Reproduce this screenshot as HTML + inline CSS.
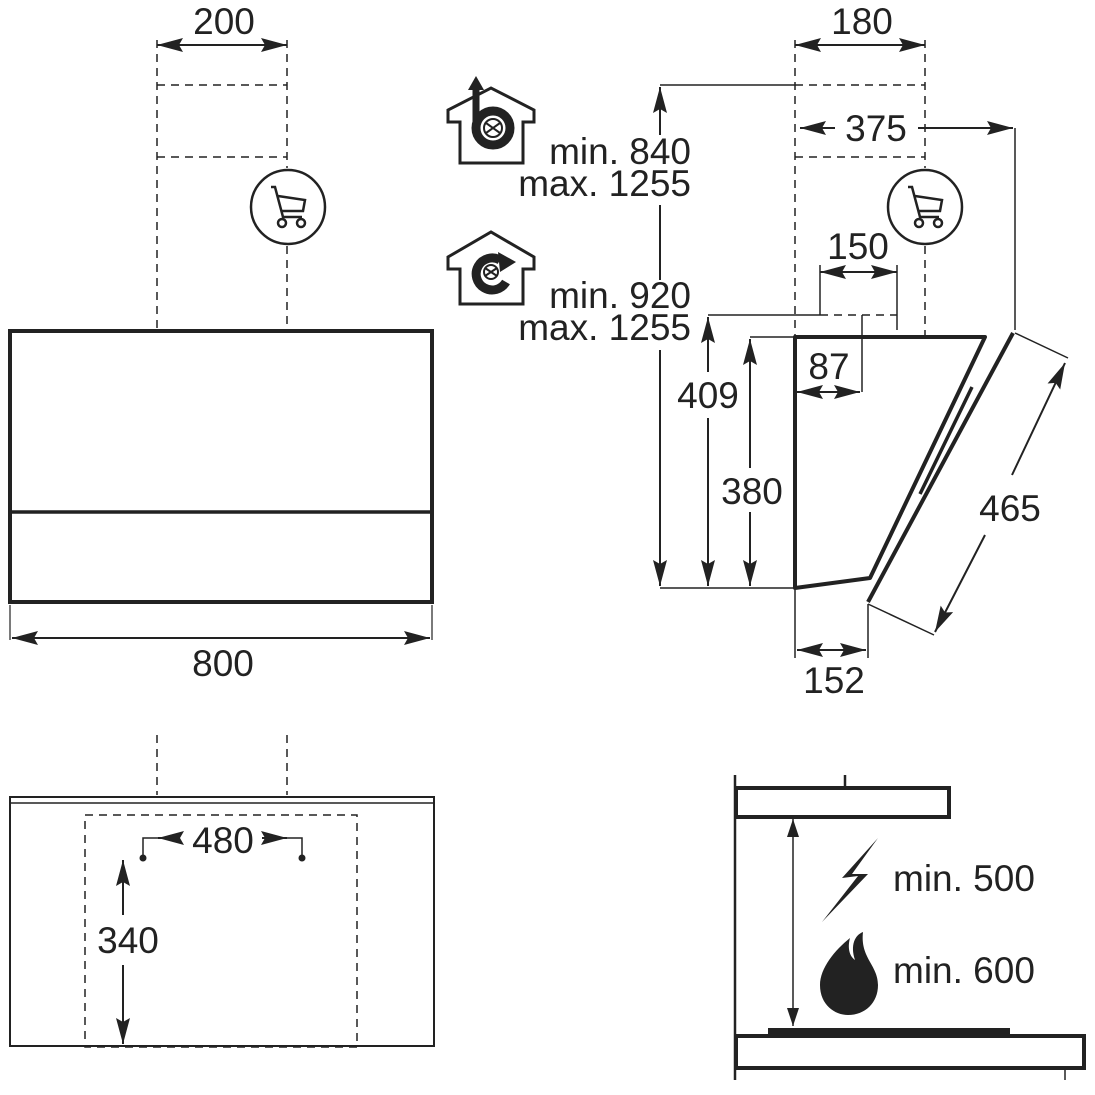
<!DOCTYPE html>
<html><head><meta charset="utf-8"><style>
html,body{margin:0;padding:0;background:#fff}
svg{display:block}
text{font-family:"Liberation Sans",sans-serif;font-size:37px;fill:#222}
</style></head><body>
<svg width="1095" height="1095" viewBox="0 0 1095 1095" xmlns="http://www.w3.org/2000/svg">
<defs>
<marker id="a" viewBox="0 0 26 14" refX="26" refY="7" markerWidth="26" markerHeight="14" markerUnits="userSpaceOnUse" orient="auto-start-reverse"><path d="M0,0 L26,7 L0,14 L4,7 z" fill="#222"/></marker>
<marker id="b" viewBox="0 0 18 12" refX="18" refY="6" markerWidth="18" markerHeight="12" markerUnits="userSpaceOnUse" orient="auto-start-reverse"><path d="M0,0 L18,6 L0,12 z" fill="#222"/></marker>
<g id="cart"><circle cx="0" cy="0" r="37" fill="none" stroke="#222" stroke-width="2.5"/>
<path d="M-17,-20 L-13,-20 L-5,10 L14,10 M-10,-11 L17,-7 L15,4 L-7,4" fill="none" stroke="#222" stroke-width="2.5"/>
<circle cx="-6" cy="16" r="4" fill="none" stroke="#222" stroke-width="2.5"/><circle cx="13" cy="16" r="4" fill="none" stroke="#222" stroke-width="2.5"/></g>
</defs>
<g stroke="#222" fill="none">
<!-- left top -->
<line x1="157" y1="45" x2="287" y2="45" stroke-width="2" marker-start="url(#a)" marker-end="url(#a)"/>
<g stroke-dasharray="8,6" stroke-width="1.5">
<line x1="157" y1="40" x2="157" y2="330"/><line x1="287" y1="40" x2="287" y2="168"/><line x1="287" y1="246" x2="287" y2="330"/>
<line x1="157" y1="85" x2="287" y2="85"/><line x1="157" y1="157" x2="287" y2="157"/>
</g>
<rect x="10" y="331" width="422" height="271" stroke-width="4"/>
<line x1="10" y1="512" x2="432" y2="512" stroke-width="3.5"/>
<line x1="10" y1="605" x2="10" y2="640" stroke-width="1.2"/><line x1="432" y1="605" x2="432" y2="640" stroke-width="1.2"/>
<line x1="12" y1="638" x2="430" y2="638" stroke-width="2" marker-start="url(#a)" marker-end="url(#a)"/>
<!-- left bottom -->
<g stroke-dasharray="8,6" stroke-width="1.5">
<line x1="157" y1="735" x2="157" y2="795"/><line x1="287" y1="735" x2="287" y2="795"/>
<rect x="85" y="815" width="272" height="232"/>
</g>
<rect x="10" y="797" width="424" height="249" stroke-width="2"/>
<line x1="10" y1="803" x2="434" y2="803" stroke-width="1.5"/>
<path d="M143,858 L143,838 L158,838" stroke-width="1.5"/>
<path d="M302,858 L302,838 L287,838" stroke-width="1.5"/>
<line x1="158" y1="838" x2="180" y2="838" stroke-width="2" marker-start="url(#a)"/>
<line x1="262" y1="838" x2="287" y2="838" stroke-width="2" marker-end="url(#a)"/>
<circle cx="143" cy="858" r="3" fill="#222"/><circle cx="302" cy="858" r="3" fill="#222"/>
<line x1="123" y1="860" x2="123" y2="915" stroke-width="2" marker-start="url(#a)"/>
<line x1="123" y1="965" x2="123" y2="1044" stroke-width="2" marker-end="url(#a)"/>
<!-- right top -->
<line x1="795" y1="45" x2="925" y2="45" stroke-width="2" marker-start="url(#a)" marker-end="url(#a)"/>
<g stroke-dasharray="8,6" stroke-width="1.5">
<line x1="795" y1="40" x2="795" y2="337"/><line x1="925" y1="40" x2="925" y2="168"/><line x1="925" y1="246" x2="925" y2="337"/>
<line x1="795" y1="85" x2="925" y2="85"/><line x1="795" y1="157" x2="925" y2="157"/>
<line x1="820" y1="315" x2="897" y2="315"/>
</g>
<line x1="660" y1="85" x2="795" y2="85" stroke-width="1.5"/>
<line x1="660" y1="87" x2="660" y2="135" stroke-width="2" marker-start="url(#a)"/>
<line x1="660" y1="205" x2="660" y2="280" stroke-width="2"/>
<line x1="660" y1="350" x2="660" y2="586" stroke-width="2" marker-end="url(#a)"/>
<line x1="800" y1="128" x2="835" y2="128" stroke-width="2" marker-start="url(#a)"/>
<line x1="918" y1="128" x2="1013" y2="128" stroke-width="2" marker-end="url(#a)"/>
<line x1="1015" y1="128" x2="1015" y2="330" stroke-width="1.5"/>
<line x1="820" y1="272" x2="897" y2="272" stroke-width="2" marker-start="url(#a)" marker-end="url(#a)"/>
<line x1="820" y1="265" x2="820" y2="315" stroke-width="1.5"/><line x1="897" y1="265" x2="897" y2="330" stroke-width="1.5"/>
<line x1="708" y1="315" x2="820" y2="315" stroke-width="1.5"/>
<line x1="708" y1="317" x2="708" y2="372" stroke-width="2" marker-start="url(#a)"/>
<line x1="708" y1="418" x2="708" y2="586" stroke-width="2" marker-end="url(#a)"/>
<line x1="750" y1="337" x2="795" y2="337" stroke-width="1.5"/>
<line x1="750" y1="339" x2="750" y2="468" stroke-width="2" marker-start="url(#a)"/>
<line x1="750" y1="512" x2="750" y2="586" stroke-width="2" marker-end="url(#a)"/>
<line x1="660" y1="588" x2="795" y2="588" stroke-width="1.5"/>
<line x1="862" y1="315" x2="862" y2="392" stroke-width="1.5"/>
<line x1="797" y1="392" x2="860" y2="392" stroke-width="2" marker-start="url(#a)" marker-end="url(#a)"/>
<path d="M795,337 L985,337 L870,578 L795,588 Z" stroke-width="4" stroke-linejoin="round"/>
<line x1="1013" y1="333" x2="868" y2="602" stroke-width="4"/>
<line x1="972" y1="387" x2="920" y2="494" stroke-width="3.5"/>
<line x1="1015" y1="333" x2="1068" y2="358" stroke-width="1.5"/>
<line x1="868" y1="604" x2="934" y2="635" stroke-width="1.5"/>
<line x1="1065" y1="363" x2="1012" y2="475" stroke-width="2" marker-start="url(#a)"/>
<line x1="985" y1="535" x2="935" y2="632" stroke-width="2" marker-end="url(#a)"/>
<line x1="795" y1="590" x2="795" y2="658" stroke-width="1.5"/><line x1="868" y1="604" x2="868" y2="658" stroke-width="1.5"/>
<line x1="797" y1="650" x2="866" y2="650" stroke-width="2" marker-start="url(#a)" marker-end="url(#a)"/>
<!-- right bottom -->
<line x1="735" y1="775" x2="735" y2="1080" stroke-width="2.5"/>
<line x1="845" y1="775" x2="845" y2="787" stroke-width="2.5"/>
<rect x="736" y="788" width="213" height="29" stroke-width="4"/>
<rect x="736" y="1036" width="348" height="32" stroke-width="4"/>
<rect x="768" y="1028" width="242" height="8" fill="#222" stroke="none"/>
<line x1="1065" y1="1068" x2="1065" y2="1080" stroke-width="1.5"/>
<line x1="793" y1="819" x2="793" y2="1026" stroke-width="1.5" marker-start="url(#b)" marker-end="url(#b)"/>
</g>
<use href="#cart" x="288" y="207"/>
<use href="#cart" x="925" y="207"/>
<!-- house icons -->
<g fill="none" stroke="#222" stroke-width="3">
<path d="M448,122 L448,110 L491,88 L534,110 L534,122 L523,122 L523,163 L460,163 L460,122 Z"/>
<path d="M448,269 L448,257 L491,232 L534,257 L534,269 L523,269 L523,304 L460,304 L460,269 Z"/>
</g>
<circle cx="493" cy="128" r="17" fill="none" stroke="#222" stroke-width="9"/>
<line x1="476" y1="128" x2="476" y2="88" stroke="#222" stroke-width="7"/>
<path d="M476,76 L468,90 L484,90 Z" fill="#222"/>
<g stroke="#222" stroke-width="2" fill="none"><circle cx="493" cy="128" r="9"/><path d="M486,123 L500,133 M500,123 L486,133"/></g>
<path d="M500,260 A16,16 0 1 0 506,282" fill="none" stroke="#222" stroke-width="9"/>
<path d="M498,252 L516,262 L500,272 Z" fill="#222"/>
<g stroke="#222" stroke-width="2" fill="none"><circle cx="491" cy="272" r="7"/><path d="M485,268 L497,276 M497,268 L485,276"/></g>
<path d="M878,838 L842,878 L858,876 L822,922 L868,874 L852,874 Z" fill="#222"/>
<path d="M850,938 C835,950 820,968 820,985 C820,1005 835,1015 848,1015 C865,1015 878,1003 878,985 C878,965 860,958 863,932 C855,935 850,945 855,960 C848,955 848,945 850,938 Z" fill="#222"/>
<!-- labels -->
<text x="224" y="34" text-anchor="middle">200</text>
<text x="223" y="676" text-anchor="middle">800</text>
<text x="223" y="853" text-anchor="middle">480</text>
<text x="128" y="953" text-anchor="middle">340</text>
<text x="862" y="34" text-anchor="middle">180</text>
<text x="876" y="141" text-anchor="middle">375</text>
<text x="858" y="259" text-anchor="middle">150</text>
<text x="829" y="379" text-anchor="middle">87</text>
<text x="708" y="408" text-anchor="middle">409</text>
<text x="752" y="504" text-anchor="middle">380</text>
<text x="1010" y="521" text-anchor="middle">465</text>
<text x="834" y="693" text-anchor="middle">152</text>
<text x="691" y="164" text-anchor="end">min. 840</text>
<text x="691" y="196" text-anchor="end">max. 1255</text>
<text x="691" y="308" text-anchor="end">min. 920</text>
<text x="691" y="340" text-anchor="end">max. 1255</text>
<text x="893" y="891">min. 500</text>
<text x="893" y="983">min. 600</text>
</svg>
</body></html>
